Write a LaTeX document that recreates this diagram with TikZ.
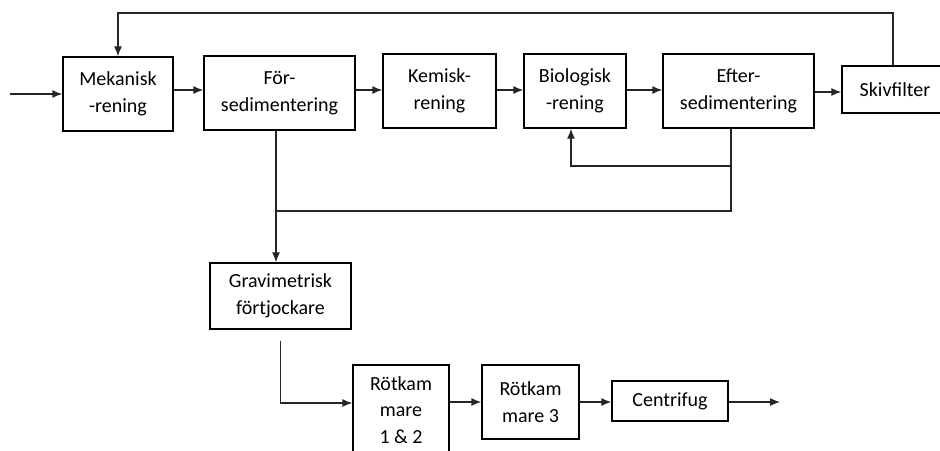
\documentclass[tikz,border=0pt]{standalone}
\usepackage{fontspec}
\setmainfont{Carlito}
\usetikzlibrary{arrows.meta}

\begin{document}
\begin{tikzpicture}[x=1pt, y=-1pt, >={Latex[length=10pt,width=8pt]},
  blk/.style={draw, line width=1.3pt, align=center, inner sep=0pt,
    font=\fontsize{20}{26.5}\selectfont},
  flow/.style={line width=1.3pt, draw=black!85}]

\useasboundingbox (0,0) rectangle (940,450);

\node[blk, minimum width=110pt, minimum height=74pt] (mek) at (118,94) {Mekanisk\\-rening};
\node[blk, minimum width=151pt, minimum height=74pt] (fors) at (279.5,93) {För-\\sedimentering};
\node[blk, minimum width=113pt, minimum height=74pt] (kem) at (439.5,91) {Kemisk-\\rening};
\node[blk, minimum width=102pt, minimum height=74pt] (bio) at (575,91) {Biologisk\\-rening};
\node[blk, minimum width=151pt, minimum height=74pt] (efter) at (738.5,91) {Efter-\\sedimentering};
\node[blk, minimum width=106pt, minimum height=47pt] (skiv) at (895,89.5) {Skivfilter};

\node[blk, minimum width=141pt, minimum height=66pt] (grav) at (280.5,296) {Gravimetrisk\\förtjockare};
\node[blk, minimum width=96pt, minimum height=90pt] (rot12) at (401,410) {Rötkam\\mare\\1 \& 2};
\node[blk, minimum width=97pt, minimum height=74pt] (rot3) at (530.5,402) {Rötkam\\mare 3};
\node[blk, minimum width=116pt, minimum height=40pt] (cent) at (670,401) {Centrifug};

\coordinate (in) at (10,94);
\coordinate (out) at (780,402);
\coordinate (top) at (500,13);
\coordinate (slam) at (276,211);
\coordinate (retur) at (731,166);

% main line
\draw[flow, ->] (in) -- (mek.west |- in);
\draw[flow, ->] (mek.east |- 0,90) -- (fors.west |- 0,90);
\draw[flow, ->] (fors.east |- 0,90) -- (kem.west |- 0,90);
\draw[flow, ->] (kem.east |- 0,90) -- (bio.west |- 0,90);
\draw[flow, ->] (bio.east |- 0,90) -- (efter.west |- 0,90);
\draw[flow, ->] (efter.east |- 0,92) -- (skiv.west |- 0,92);
\draw[flow, ->] ([xshift=-2pt]skiv.north) |- (top) -| (mek.north);

% slam
\draw[flow, ->] (slam |- fors.south) -- (slam |- grav.north);
\draw[flow] (retur |- efter.south) -- (retur |- slam) -- (slam);
\draw[flow, ->] (retur) -| ([xshift=-4pt]bio.south);
\draw[flow, ->] ([yshift=-11pt]grav.south) |- (rot12.west |- 0,403);
\draw[flow, ->] (rot12.east |- 0,402) -- (rot3.west |- 0,402);
\draw[flow, ->] (rot3.east |- 0,402) -- (cent.west |- 0,402);
\draw[flow, ->] (cent.east |- out) -- (out);

\end{tikzpicture}
\end{document}
